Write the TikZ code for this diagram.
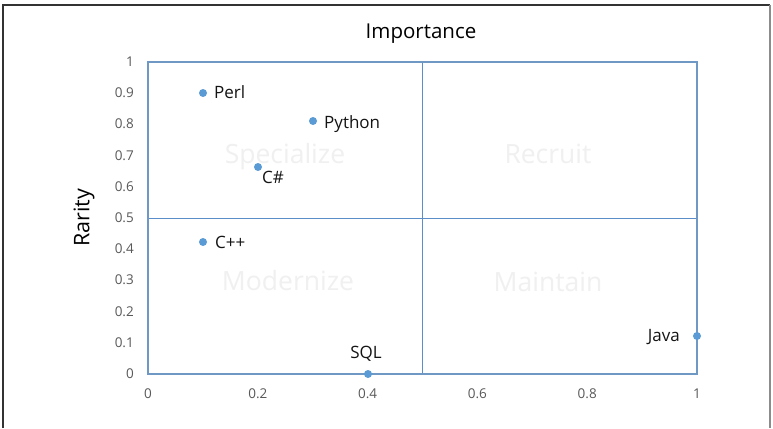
\documentclass[tikz,border=0pt]{standalone}
\usepackage{fontspec}
\setmainfont{Open Sans}
\begin{document}
\begin{tikzpicture}[x=1pt,y=-1pt,
  tick/.style={font=\fontsize{13.5}{13.5}\selectfont, text=black!65, inner sep=0pt},
  lbl/.style={font=\fontsize{17}{17}\selectfont, text=black!92, inner sep=0pt},
  quad/.style={font=\fontsize{26.5}{26.5}\selectfont, text=black!6, inner sep=0pt, anchor=base},
  dot/.style={circle, fill=dotblue, inner sep=0pt, minimum size=8pt},
  grid line/.style={draw=lineblue, line width=0.9pt}]
\definecolor{dotblue}{HTML}{5B9BD5}
\definecolor{lineblue}{HTML}{5B8EC8}
\definecolor{frameblue}{HTML}{6F98C4}
\useasboundingbox (0,0) rectangle (773,428);
\fill[white] (0,0) rectangle (773,428);
% outer frame
\draw[black!80, line width=1.2pt] (3,428) -- (3,5) -- (770,5);
\draw[black!45, line width=2pt] (770,5) -- (770,428);
% quadrant labels
\node[quad] (qs) at (285,163) {Specialize};
\node[quad] (qr) at (548,163) {Recruit};
\node[quad] (qm) at (288,290) {Modernize};
\node[quad] (qn) at (548,291) {Maintain};
% plot area
\coordinate (p00) at (148,374);
\coordinate (p11) at (697,62);
\coordinate (mt) at (422.5,62);
\coordinate (mb) at (422.5,374);
\coordinate (ml) at (148,218);
\coordinate (mr) at (697,218);
\draw[grid line] (mt) -- (mb);
\draw[grid line] (ml) -- (mr);
\draw[draw=frameblue, line width=1.2pt] (p00) rectangle (p11);
% title and axis label
\node[font=\fontsize{20.5}{20.5}\selectfont, inner sep=0pt, anchor=base] (title) at (421,38) {Importance};
\node[font=\fontsize{21.5}{21.5}\selectfont, inner sep=0pt, rotate=90] (ylab) at (84,218) {Rarity};
% y ticks
\foreach \v/\t in {0/0,1/0.1,2/0.2,3/0.3,4/0.4,5/0.5,6/0.6,7/0.7,8/0.8,9/0.9,10/1}
  \node[tick, anchor=base east] (yt\v) at (134,{378.5-31.2*\v}) {\t};
% x ticks
\foreach \v/\t in {0/0,1/0.2,2/0.4,3/0.6,4/0.8,5/1}
  \node[tick, anchor=base] (xt\v) at ({148+109.8*\v},398) {\t};
% data points
\node[dot] (perl) at (203,93) {};
\node[dot] (python) at (313,121) {};
\node[dot] (cs) at (258,167) {};
\node[dot] (cpp) at (203,242) {};
\node[dot] (sql) at (368,374) {};
\node[dot] (java) at (697,336) {};
\node[lbl, anchor=base west] (lperl) at (214,98.5) {Perl};
\node[lbl, anchor=base west] (lpython) at (324,128) {Python};
\node[lbl, anchor=base west] (lcs) at (262,183.5) {C\#};
\node[lbl, anchor=base west] (lcpp) at (215,248) {C++};
\node[lbl, anchor=base] (lsql) at (366,358) {SQL};
\node[lbl, anchor=base east] (ljava) at (680,341) {Java};
\end{tikzpicture}
\end{document}
